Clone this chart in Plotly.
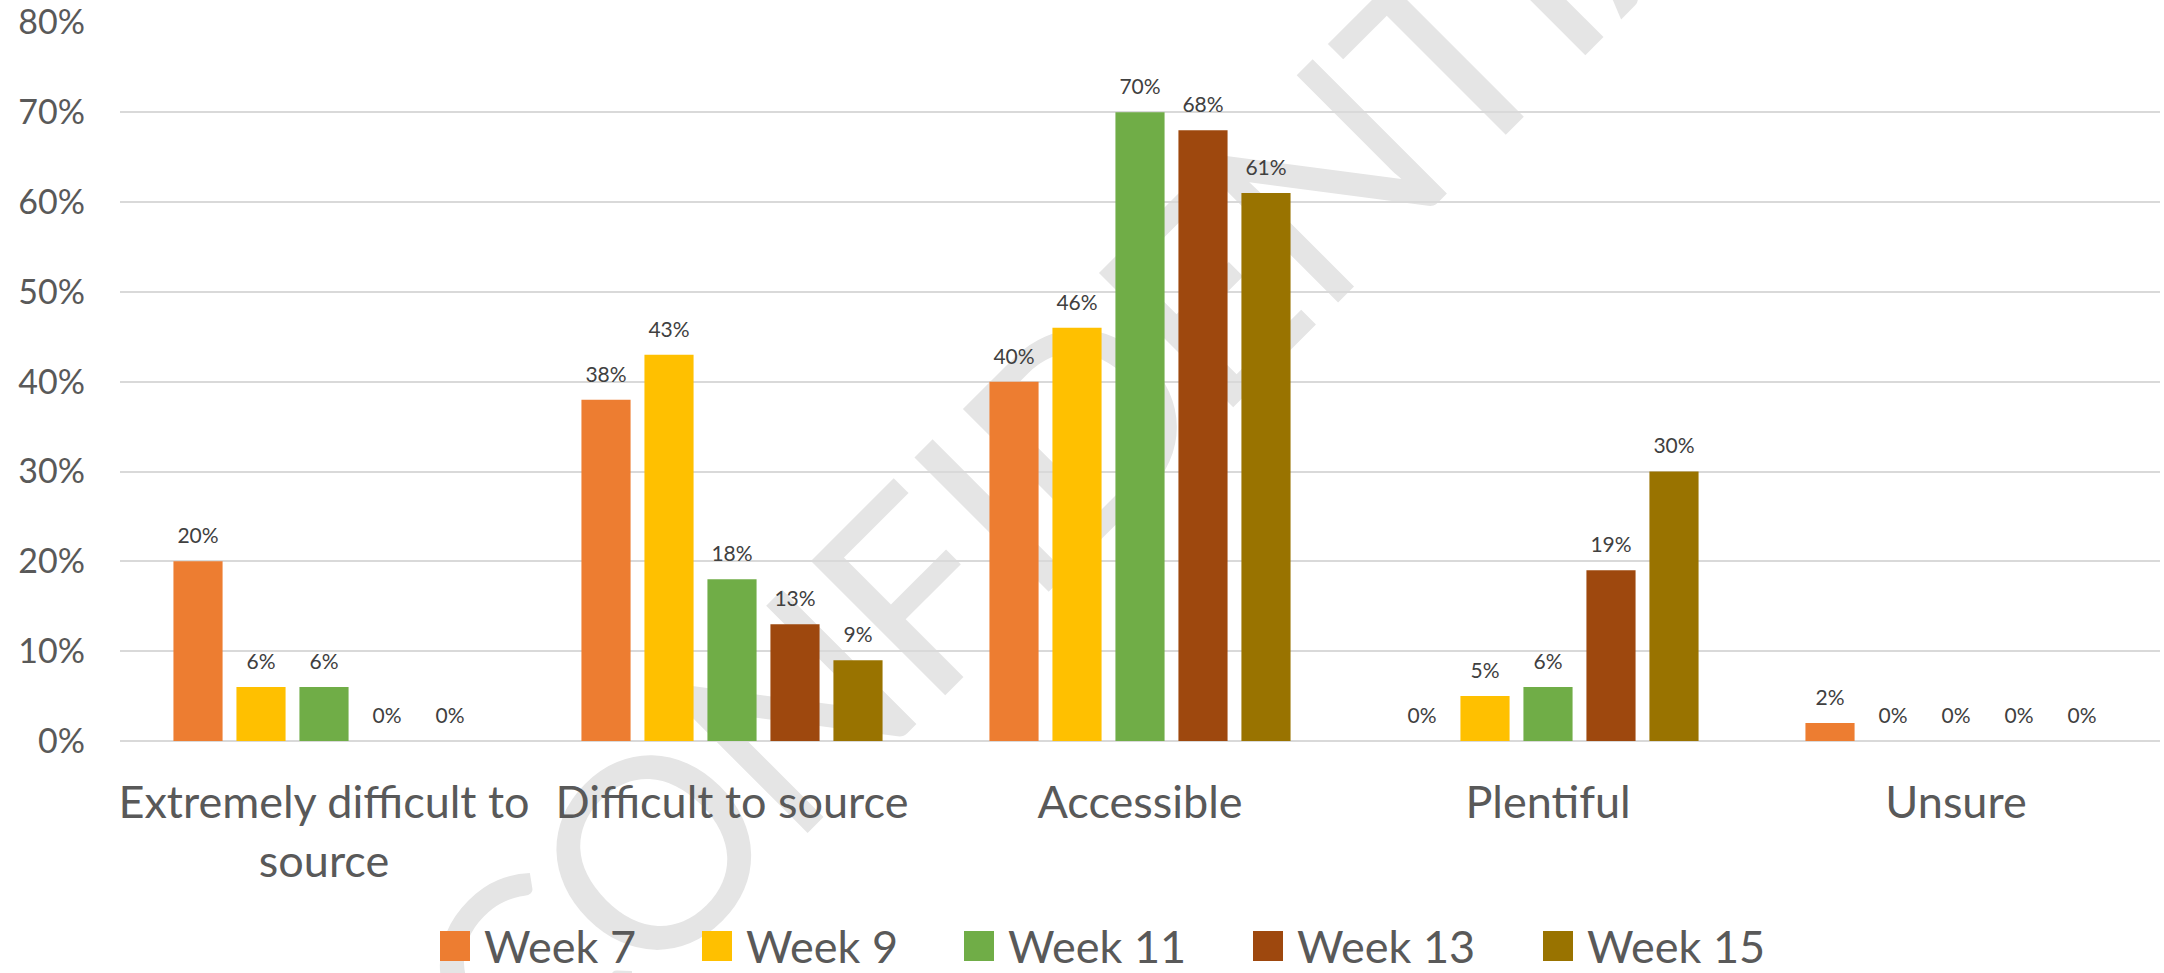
import base64
import math
import plotly.graph_objects as go

# ---------------- data ----------------
categories = ["Extremely difficult to source", "Difficult to source", "Accessible", "Plentiful", "Unsure"]
tick_labels = ["Extremely difficult to<br>source", "Difficult to source", "Accessible", "Plentiful", "Unsure"]
series_names = ["Week 7", "Week 9", "Week 11", "Week 13", "Week 15"]
week7 = [0.20, 0.38, 0.40, 0.00, 0.02]
week9 = [0.06, 0.43, 0.46, 0.05, 0.00]
week11 = [0.06, 0.18, 0.70, 0.06, 0.00]
week13 = [0.00, 0.13, 0.68, 0.19, 0.00]
week15 = [0.00, 0.09, 0.61, 0.30, 0.00]
series_values = [week7, week9, week11, week13, week15]
y_tick_values = [0, 0.1, 0.2, 0.3, 0.4, 0.5, 0.6, 0.7, 0.8]
y_tick_labels = ["0%", "10%", "20%", "30%", "40%", "50%", "60%", "70%", "80%"]
watermark_text = "CONFIDENTIAL"

# ---------------- style ----------------
colors = ["#ED7D31", "#FFC000", "#70AD47", "#9E480E", "#997300"]
FONT = "Lato"
TEXT_GREY = "#595959"
LABEL_GREY = "#404040"
GRID = "#D9D9D9"

W, H = 2164, 973
ML, MR, MT, MB = 120, 4, 22, 232
PW, PH = W - ML - MR, H - MT - MB
BARGAP = 0.228

fig = go.Figure()

for name, vals, col in zip(series_names, series_values, colors):
    fig.add_trace(go.Bar(
        x=categories, y=vals, name=name, marker=dict(color=col, line=dict(width=0)),
        showlegend=False, hoverinfo="x+y",
    ))

# data labels (offset above bars via invisible markers)
for name, vals in zip(series_names, series_values):
    fig.add_trace(go.Scatter(
        x=categories, y=vals, mode="markers+text", texttemplate="%{y:.0%}",
        textposition="top center", marker=dict(size=19, opacity=0),
        textfont=dict(family=FONT, size=21, color=LABEL_GREY),
        showlegend=False, hoverinfo="skip", cliponaxis=False,
    ))

def px_to_paper_x(px):
    return (px - ML) / PW

def px_to_paper_y(py):
    return (H - MB - py) / PH

# manual legend with large square keys
LEGEND_X = [440, 702, 964, 1253, 1543]
LEGEND_Y_CENTER = 946
KEY = 30
shapes = []
annotations = []
for name, col, lx in zip(series_names, colors, LEGEND_X):
    shapes.append(dict(
        type="rect", xref="paper", yref="paper",
        x0=px_to_paper_x(lx), x1=px_to_paper_x(lx + KEY),
        y0=px_to_paper_y(LEGEND_Y_CENTER + KEY / 2), y1=px_to_paper_y(LEGEND_Y_CENTER - KEY / 2),
        fillcolor=col, line=dict(width=0),
    ))
    annotations.append(dict(
        text=name, xref="paper", yref="paper", x=px_to_paper_x(lx + KEY + 12),
        y=px_to_paper_y(LEGEND_Y_CENTER), xanchor="left", yanchor="middle",
        showarrow=False, font=dict(family=FONT, size=45, color=TEXT_GREY),
    ))

# watermark: letters laid out along a 45-degree baseline, drawn as an SVG image behind traces
WM_ADV = {"C": .533, "O": .662, "N": .646, "F": .459, "I": .252, "D": .615,
          "E": .488, "T": .487, "A": .579, "L": .420}
WM_EM, WM_S0, WM_P, WM_SIZE = 305, -404, 1160, 265
r2 = math.sqrt(2)
pieces = []
cum = 0.0
for ch in watermark_text:
    c = cum + WM_ADV[ch] / 2
    cum += WM_ADV[ch]
    s = WM_S0 + WM_EM * c
    lx, ly = (s + WM_P) / r2, (WM_P - s) / r2
    pieces.append(
        f'<text x="{lx:.1f}" y="{ly:.1f}" transform="rotate(-45 {lx:.1f} {ly:.1f})" '
        f'text-anchor="middle">{ch}</text>'
    )
svg = (
    f'<svg xmlns="http://www.w3.org/2000/svg" width="{W}" height="{H}" viewBox="0 0 {W} {H}">'
    f'<g font-family="Lato" font-weight="normal" font-size="{WM_SIZE}" fill="#E5E5E5">'
    + "".join(pieces) + "</g></svg>"
)
svg_uri = "data:image/svg+xml;base64," + base64.b64encode(svg.encode("utf-8")).decode("ascii")

fig.update_layout(
    template="none",
    width=W, height=H, autosize=False,
    margin=dict(l=ML, r=MR, t=MT, b=MB, pad=0),
    paper_bgcolor="white", plot_bgcolor="rgba(0,0,0,0)",
    barmode="group", bargap=BARGAP, bargroupgap=0.22,
    scattermode="group", scattergap=BARGAP,
    showlegend=False,
    shapes=shapes, annotations=annotations,
    images=[dict(
        source=svg_uri, xref="paper", yref="paper",
        x=-ML / PW, y=1 + MT / PH, sizex=W / PW, sizey=H / PH,
        xanchor="left", yanchor="top", sizing="stretch", layer="below",
    )],
    font=dict(family=FONT, color=TEXT_GREY),
)
fig.update_xaxes(
    type="category", tickmode="array", tickvals=categories, ticktext=tick_labels,
    tickfont=dict(family=FONT, size=45, color=TEXT_GREY),
    showgrid=False, showline=False, zeroline=False, ticks="", ticklabelstandoff=31,
    automargin=False,
)
fig.update_yaxes(
    range=[0, 0.8005], tickmode="array", tickvals=y_tick_values, ticktext=y_tick_labels,
    tickfont=dict(family=FONT, size=34, color=TEXT_GREY),
    showgrid=True, gridcolor=GRID, gridwidth=2,
    zeroline=True, zerolinecolor=GRID, zerolinewidth=2,
    showline=False, ticks="", ticklabelstandoff=34, automargin=False,
)

fig.write_html(
    "out.html",
    config={"displayModeBar": False},
    post_script="document.body.style.margin='0px';",
)
